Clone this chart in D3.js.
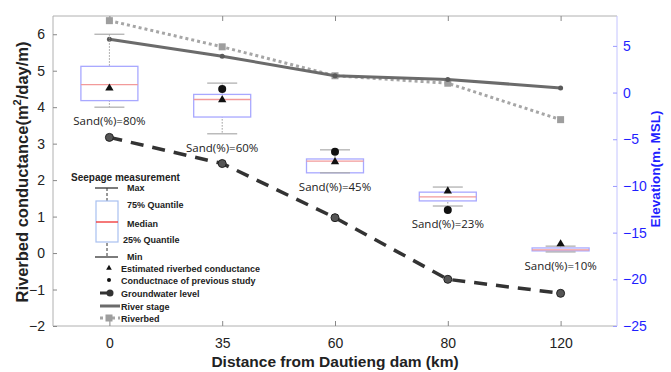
<!DOCTYPE html>
<html>
<head>
<meta charset="utf-8">
<style>
  body { margin: 0; background: #fff; }
  svg { display: block; font-family: "Liberation Sans", Arial, sans-serif; }
</style>
</head>
<body>
<svg id="chart" width="671" height="372"></svg>
<script src="https://cdn.jsdelivr.net/npm/d3@7"></script>
<script>
/* global d3 */

// ---- data ----
const distances = ['0', '35', '60', '80', '120']
const sandLabels = ['Sand(%)=80%', 'Sand(%)=60%', 'Sand(%)=45%', 'Sand(%)=23%', 'Sand(%)=10%']

// seepage measurement box stats (conductance, m2/day/m)
const boxMax = [6.0, 4.66, 2.83, 1.81, 0.19]
const boxQ3 = [5.12, 4.35, 2.58, 1.67, 0.14]
const boxMedian = [4.62, 4.21, 2.52, 1.54, 0.09]
const boxQ1 = [4.18, 3.73, 2.2, 1.43, 0.06]
const boxMin = [4.0, 3.27, 2.2, 1.29, 0.03]

const estimated = [4.52, 4.2, 2.5, 1.7, 0.25]
const previous = [null, 4.5, 2.78, 1.18, null]

// elevation (m. MSL)
const groundwater = [-4.8, -7.6, -13.4, -20.0, -21.5]
const riverStage = [5.7, 3.9, 1.8, 1.4, 0.5]
const riverbed = [7.7, 4.9, 1.8, 1.0, -2.9]

const leftTicks = [-2, -1, 0, 1, 2, 3, 4, 5, 6]
const rightTicks = [-25, -20, -15, -10, -5, 0, 5]

// ---- layout ----
const margin = { top: 16, right: 54, bottom: 46, left: 53 }
const W = 671, H = 372
const innerW = W - margin.left - margin.right
const innerH = H - margin.top - margin.bottom

const svg = d3.select('#chart')
const g = svg.append('g').attr('transform', `translate(${margin.left},${margin.top})`)

const x = d3.scalePoint().domain(distances).range([0, innerW]).padding(0.5)
const yL = d3.scaleLinear().domain([-2, 6.5]).range([innerH, 0])
const yR = d3.scaleLinear().domain([-25, 8.2]).range([innerH, 0])

const axisGray = '#b0b0b0'
const blue = '#1f1fff'

// frame
g.append('line').attr('x1', 0).attr('x2', innerW).attr('y1', 0).attr('y2', 0).attr('stroke', axisGray)
g.append('line').attr('x1', 0).attr('x2', innerW).attr('y1', innerH).attr('y2', innerH).attr('stroke', axisGray)
g.append('line').attr('x1', 0).attr('x2', 0).attr('y1', 0).attr('y2', innerH).attr('stroke', axisGray)
g.append('line').attr('x1', innerW).attr('x2', innerW).attr('y1', 0).attr('y2', innerH).attr('stroke', '#c4c4ff')

// x axis
const xAxis = g.append('g').attr('transform', `translate(0,${innerH})`)
  .call(d3.axisBottom(x).tickSize(-5).tickPadding(12))
xAxis.select('.domain').remove()
xAxis.selectAll('line').attr('stroke', '#888')
xAxis.selectAll('text').attr('font-size', 14).attr('fill', '#222')
const xTop = g.append('g').call(d3.axisTop(x).tickSize(-5).tickFormat(''))
xTop.select('.domain').remove()
xTop.selectAll('line').attr('stroke', '#888')

// left axis
const lAxis = g.append('g').call(d3.axisLeft(yL).tickValues(leftTicks).tickSize(-4).tickPadding(8))
lAxis.select('.domain').remove()
lAxis.selectAll('line').attr('stroke', '#888')
lAxis.selectAll('text').attr('font-size', 14).attr('fill', '#222')

// right axis
const rAxis = g.append('g').attr('transform', `translate(${innerW},0)`)
  .call(d3.axisRight(yR).tickValues(rightTicks).tickSize(-4).tickPadding(6))
rAxis.select('.domain').remove()
rAxis.selectAll('line').attr('stroke', '#9a9aff')
rAxis.selectAll('text').attr('font-size', 14).attr('fill', blue)

// axis titles
const lt = svg.append('text')
  .attr('transform', `translate(28,172) rotate(-90)`)
  .attr('text-anchor', 'middle').attr('font-size', 16.5).attr('font-weight', 'bold').attr('fill', '#222')
lt.append('tspan').text('Riverbed conductance(m')
lt.append('tspan').attr('dy', -7).attr('font-size', 11).text('2')
lt.append('tspan').attr('dy', 7).text('/day/m)')

svg.append('text')
  .attr('transform', `translate(660,169) rotate(-90)`)
  .attr('text-anchor', 'middle').attr('font-size', 13.5).attr('font-weight', 'bold').attr('fill', blue)
  .text('Elevation(m. MSL)')

svg.append('text').attr('x', margin.left + innerW / 2).attr('y', 367)
  .attr('text-anchor', 'middle').attr('font-size', 15.5).attr('font-weight', 'bold').attr('fill', '#222')
  .text('Distance from Dautieng dam (km)')

// ---- elevation lines ----
const lineR = d3.line().x((d, i) => x(distances[i])).y(d => yR(d))

g.append('path').datum(riverbed).attr('d', lineR)
  .attr('fill', 'none').attr('stroke', '#a6a6a6').attr('stroke-width', 3).attr('stroke-dasharray', '3,3')
g.selectAll('.rb').data(riverbed).join('rect')
  .attr('x', (d, i) => x(distances[i]) - 3.5).attr('y', d => yR(d) - 3.5)
  .attr('width', 7).attr('height', 7).attr('fill', '#9e9e9e')

g.append('path').datum(riverStage).attr('d', lineR)
  .attr('fill', 'none').attr('stroke', '#6b6b6b').attr('stroke-width', 3)
g.selectAll('.rs').data(riverStage).join('circle')
  .attr('cx', (d, i) => x(distances[i])).attr('cy', d => yR(d)).attr('r', 2.5).attr('fill', '#5a5a5a')

g.append('path').datum(groundwater).attr('d', lineR)
  .attr('fill', 'none').attr('stroke', '#333').attr('stroke-width', 3.5).attr('stroke-dasharray', '13,9')
g.selectAll('.gw').data(groundwater).join('circle')
  .attr('cx', (d, i) => x(distances[i])).attr('cy', d => yR(d)).attr('r', 4)
  .attr('fill', '#555').attr('stroke', '#222').attr('stroke-width', 1)

// ---- boxes ----
const boxW = 57, capW = 30
distances.forEach((dist, i) => {
  const cx = x(dist)
  const bg = g.append('g')
  bg.append('line').attr('x1', cx).attr('x2', cx).attr('y1', yL(boxMax[i])).attr('y2', yL(boxMin[i]))
    .attr('stroke', '#999').attr('stroke-dasharray', '1.5,1.5')
  bg.append('rect').attr('x', cx - boxW / 2).attr('y', yL(boxQ3[i]))
    .attr('width', boxW).attr('height', yL(boxQ1[i]) - yL(boxQ3[i]))
    .attr('fill', '#fff').attr('stroke', '#a8a8ff').attr('stroke-width', 1.3)
  bg.append('line').attr('x1', cx - boxW / 2).attr('x2', cx + boxW / 2)
    .attr('y1', yL(boxMedian[i])).attr('y2', yL(boxMedian[i])).attr('stroke', '#f29a9a').attr('stroke-width', 1.3)
  ;[boxMax[i], boxMin[i]].forEach(v => {
    bg.append('line').attr('x1', cx - capW / 2).attr('x2', cx + capW / 2)
      .attr('y1', yL(v)).attr('y2', yL(v)).attr('stroke', '#aaa').attr('stroke-width', 1.2)
  })
  if (previous[i] !== null) {
    bg.append('circle').attr('cx', cx).attr('cy', yL(previous[i])).attr('r', 4).attr('fill', '#111')
  }
  bg.append('path').attr('d', d3.symbol(d3.symbolTriangle, 30)())
    .attr('transform', `translate(${cx},${yL(estimated[i])})`).attr('fill', '#111')
  const low = Math.max(yL(boxMin[i]), previous[i] !== null ? yL(previous[i]) : 0)
  bg.append('text').attr('x', cx).attr('y', low + 18)
    .attr('text-anchor', 'middle').attr('font-size', 11.5).attr('fill', '#222')
    .attr('font-family', '"Open Sans", sans-serif').text(sandLabels[i])
})

// ---- legend ----
const lg = svg.append('g').attr('font-weight', 'bold').attr('fill', '#222')
  .attr('font-family', '"Liberation Sans", Arial, sans-serif')
lg.append('text').attr('x', 71).attr('y', 181).attr('font-size', 10).text('Seepage measurement')
const lx = 107
lg.append('line').attr('x1', lx).attr('x2', lx).attr('y1', 188).attr('y2', 257)
  .attr('stroke', '#333').attr('stroke-dasharray', '3,2')
lg.append('rect').attr('x', 96).attr('y', 201).attr('width', 22).attr('height', 41)
  .attr('fill', '#fff').attr('stroke', '#a8c0f0').attr('stroke-width', 1.2)
lg.append('line').attr('x1', 96).attr('x2', 118).attr('y1', 222).attr('y2', 222).attr('stroke', '#f03030').attr('stroke-width', 1.3)
lg.append('line').attr('x1', 95).attr('x2', 118).attr('y1', 188).attr('y2', 188).attr('stroke', '#333').attr('stroke-width', 1.3)
lg.append('line').attr('x1', 95).attr('x2', 118).attr('y1', 257).attr('y2', 257).attr('stroke', '#333').attr('stroke-width', 1.3)
const lgText = [['Max', 127, 191], ['75% Quantile', 127, 208], ['Median', 127, 227], ['25% Quantile', 123, 243], ['Min', 127, 260]]
lgText.forEach(t => lg.append('text').attr('x', t[1]).attr('y', t[2]).attr('font-size', 9).text(t[0]))

const items = ['Estimated riverbed conductance', 'Conductnace of previous study', 'Groundwater level', 'River stage', 'Riverbed']
const itemY = [268, 280, 293, 306, 318]
lg.append('path').attr('d', d3.symbol(d3.symbolTriangle, 14)()).attr('transform', `translate(109,${itemY[0]})`).attr('fill', '#111')
lg.append('circle').attr('cx', 109).attr('cy', itemY[1]).attr('r', 2).attr('fill', '#111')
lg.append('line').attr('x1', 100).attr('x2', 112).attr('y1', itemY[2]).attr('y2', itemY[2]).attr('stroke', '#333').attr('stroke-width', 3)
lg.append('circle').attr('cx', 110).attr('cy', itemY[2]).attr('r', 3.5).attr('fill', '#333')
lg.append('line').attr('x1', 100).attr('x2', 120).attr('y1', itemY[3]).attr('y2', itemY[3]).attr('stroke', '#6b6b6b').attr('stroke-width', 3)
lg.append('line').attr('x1', 100).attr('x2', 120).attr('y1', itemY[4]).attr('y2', itemY[4]).attr('stroke', '#a6a6a6').attr('stroke-width', 3).attr('stroke-dasharray', '3,3')
lg.append('rect').attr('x', 105.5).attr('y', itemY[4] - 3.5).attr('width', 7).attr('height', 7).attr('fill', '#9e9e9e')
items.forEach((t, i) => {
  lg.append('text').attr('x', 121).attr('y', itemY[i] + 3.5).attr('font-size', 9).text(t)
})
</script>
</body>
</html>
